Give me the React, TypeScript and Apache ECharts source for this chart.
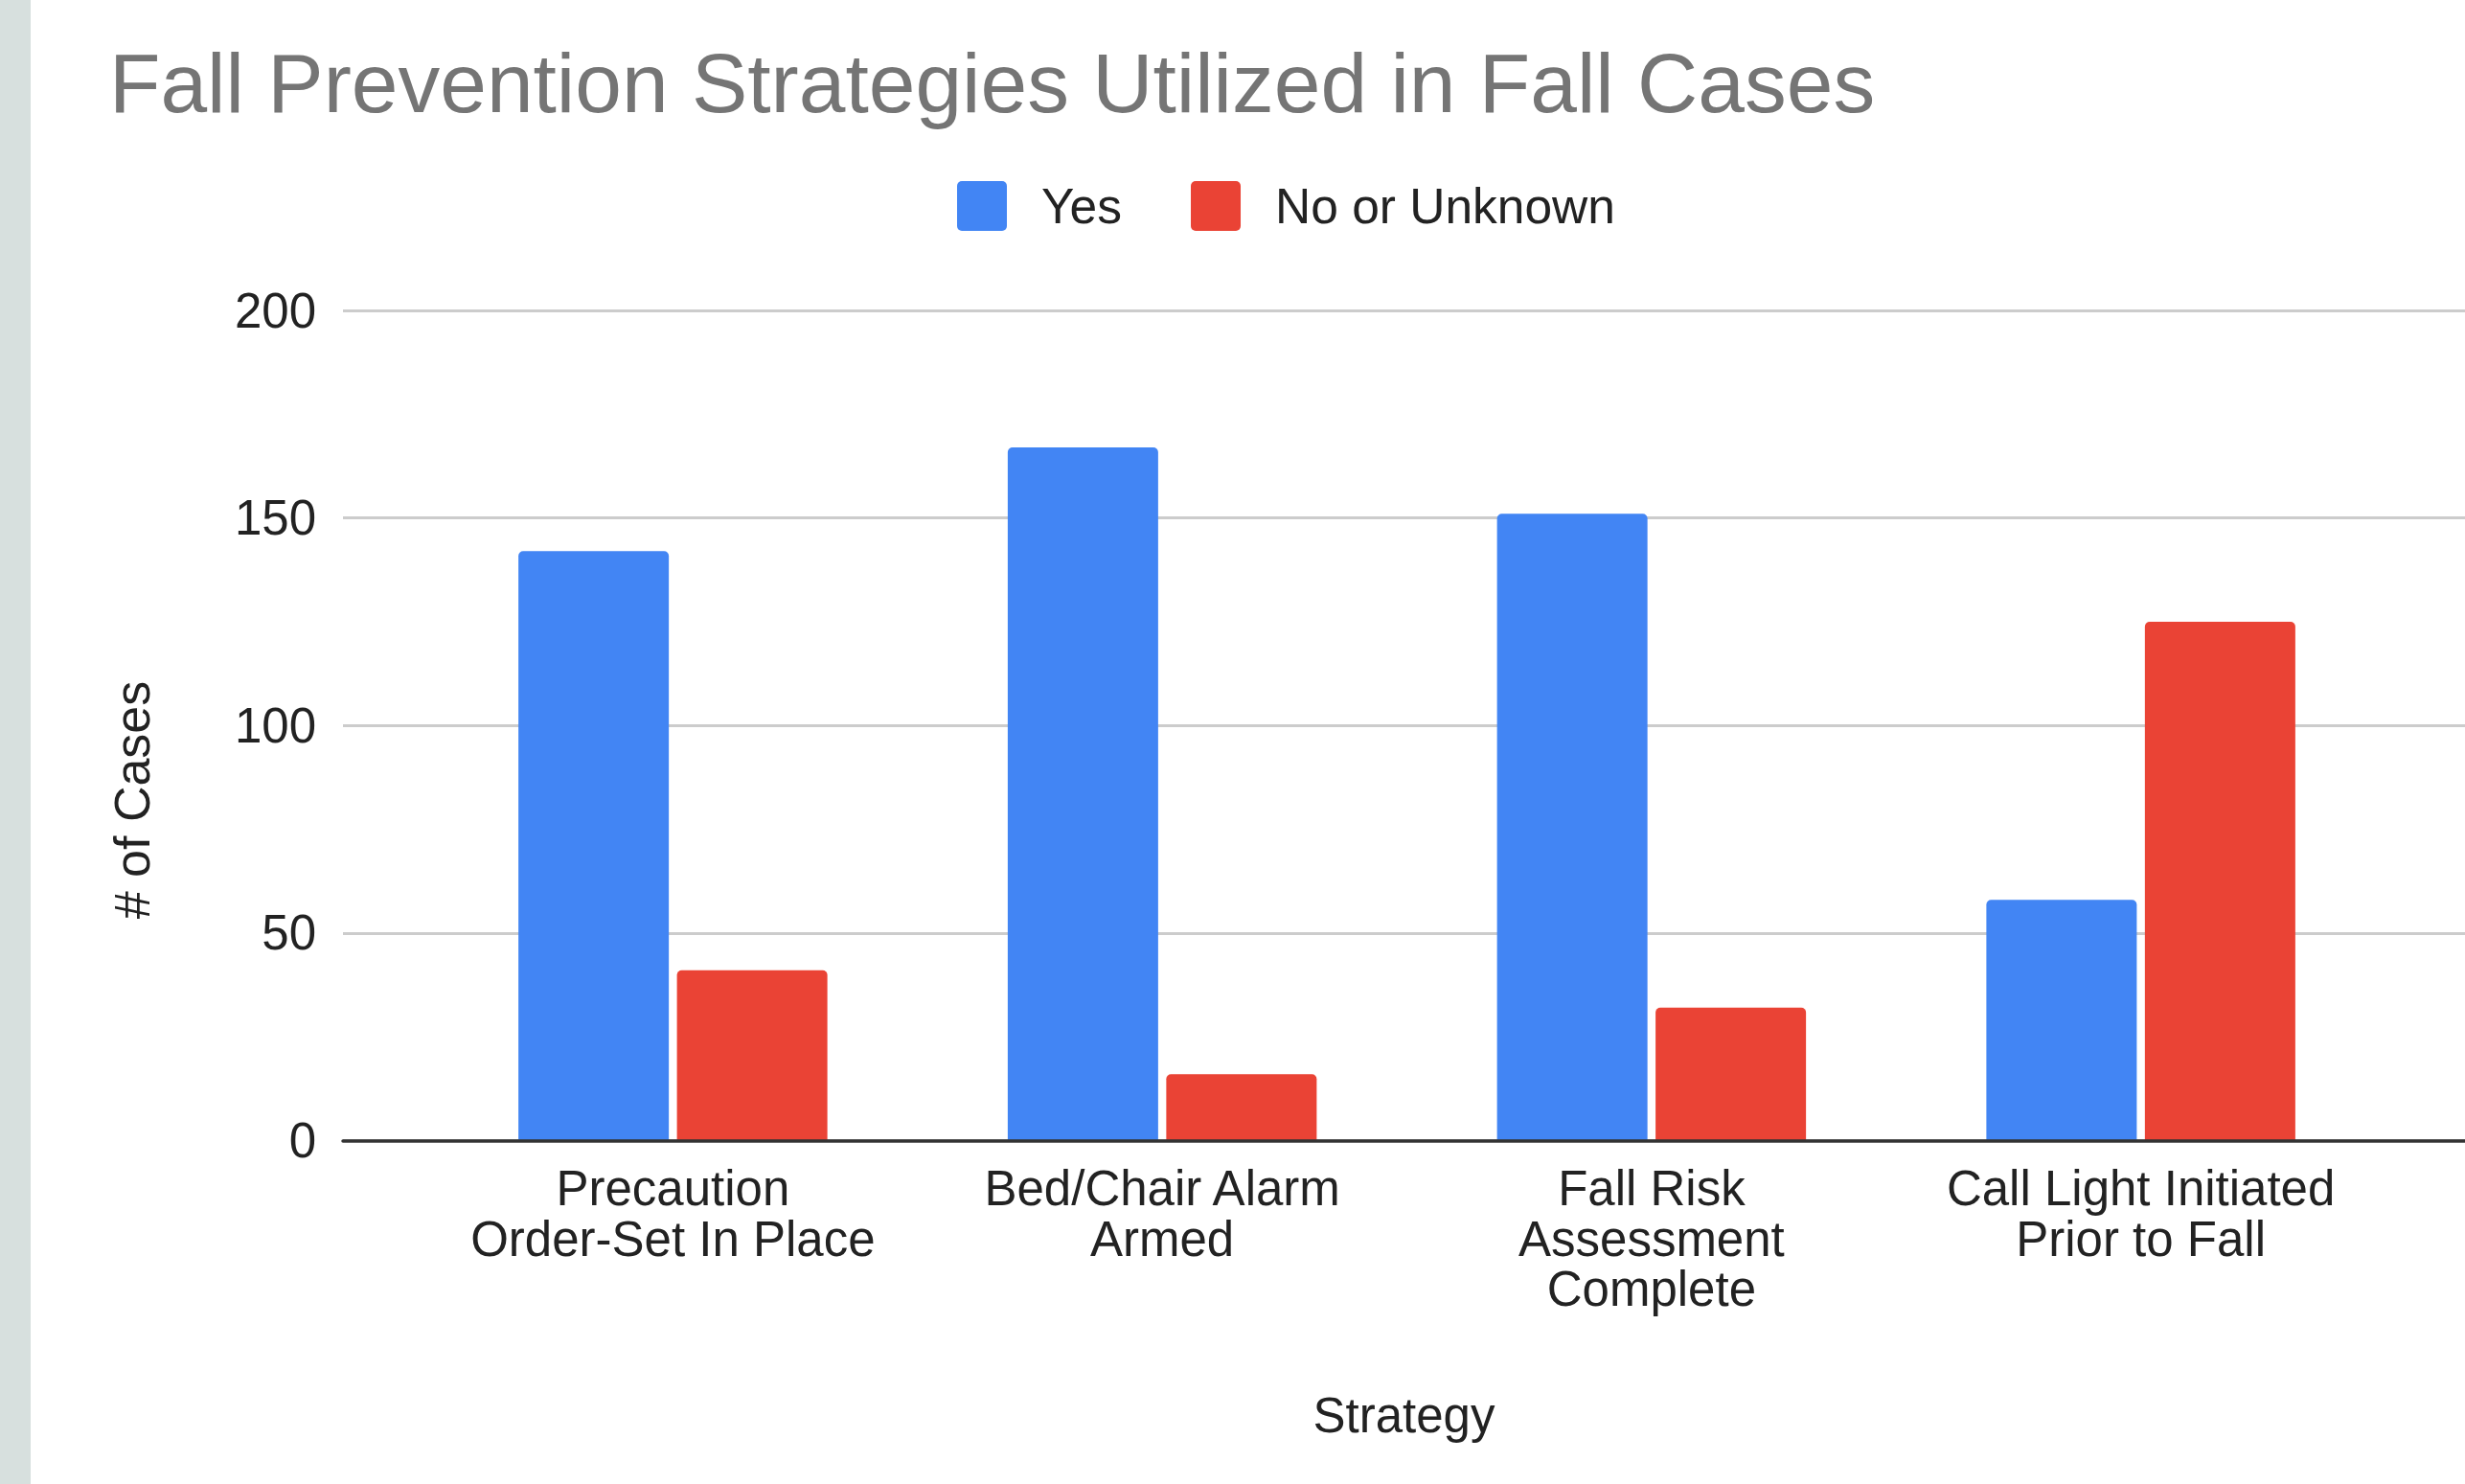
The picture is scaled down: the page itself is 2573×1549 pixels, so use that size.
import React, { useEffect, useRef } from "react";
import * as echarts from "echarts";

const W = 2573;
const H = 1549;
const FONT = "'Liberation Sans', Arial, Helvetica, sans-serif";

// ---- data ----
const chartTitle = "Fall Prevention Strategies Utilized in Fall Cases";
const categories = [
  "Precaution Order-Set In Place",
  "Bed/Chair Alarm Armed",
  "Fall Risk Assessment Complete",
  "Call Light Initiated Prior to Fall",
];
const categoryLabels = [
  "Precaution\nOrder-Set In Place",
  "Bed/Chair Alarm\nArmed",
  "Fall Risk\nAssessment\nComplete",
  "Call Light Initiated\nPrior to Fall",
];
const seriesNames = ["Yes", "No or Unknown"];
const yesValues = [142, 167, 151, 58];
const noValues = [41, 16, 32, 125];
const yMin = 0;
const yMax = 200;
const yStep = 50;
const xAxisTitle = "Strategy";
const yAxisTitle = "# of Cases";

const BLUE = "#4285F4";
const RED = "#EA4335";

const ICON =
  "path://M5,0 H47 A5,5 0 0 1 52,5 V47 A5,5 0 0 1 47,52 H5 A5,5 0 0 1 0,47 V5 A5,5 0 0 1 5,0 Z";

export default function App() {
  const ref = useRef<HTMLDivElement>(null);

  useEffect(() => {
    if (!ref.current) return;
    const chart = echarts.init(ref.current, null, {
      renderer: "svg",
      width: W,
      height: H,
    });

    const plotTop = 324;
    const plotBottom = 1190.5;
    const plotH = plotBottom - plotTop;

    chart.setOption({
      animation: false,
      backgroundColor: "#ffffff",
      title: {
        text: chartTitle,
        left: 114,
        top: 43,
        padding: 0,
        textStyle: {
          fontFamily: FONT,
          fontSize: 87.5,
          lineHeight: 88,
          fontWeight: "normal",
          color: "#757575",
        },
      },
      legend: {
        left: 999,
        top: 189,
        padding: 0,
        itemWidth: 52,
        itemHeight: 52,
        itemGap: 72,
        icon: ICON,
        data: seriesNames,
        textStyle: {
          fontFamily: FONT,
          fontSize: 51.5,
          color: "#222222",
          padding: [0, 0, 0, 31],
        },
      },
      grid: [
        { left: 358, top: plotTop, width: 2220, height: plotH, containLabel: false },
        { left: 447, top: plotTop, width: 2043, height: plotH, containLabel: false },
      ],
      xAxis: [
        {
          gridIndex: 0,
          type: "value",
          min: 0,
          max: 1,
          z: 5,
          axisLine: { show: true, onZero: false, lineStyle: { color: "#333333", width: 3.5 } },
          axisTick: { show: false },
          axisLabel: { show: false },
          splitLine: { show: false },
          name: xAxisTitle,
          nameLocation: "middle",
          nameGap: 261,
          nameTextStyle: {
            fontFamily: FONT,
            fontSize: 51,
            lineHeight: 52.5,
            color: "#222222",
          },
        },
        {
          gridIndex: 1,
          type: "category",
          data: categories,
          axisLine: { show: false },
          axisTick: { show: false },
          splitLine: { show: false },
          axisLabel: {
            interval: 0,
            margin: 24,
            fontFamily: FONT,
            fontSize: 51,
            lineHeight: 52.5,
            color: "#222222",
            align: "center",
            formatter: (_v: string, i: number) => categoryLabels[i],
          },
        },
      ],
      yAxis: [
        {
          gridIndex: 0,
          type: "value",
          min: yMin,
          max: yMax,
          interval: yStep,
          axisLine: { show: false },
          axisTick: { show: false },
          axisLabel: {
            margin: 28,
            fontFamily: FONT,
            fontSize: 51,
            color: "#222222",
          },
          splitLine: { show: true, lineStyle: { color: "#cccccc", width: 3 } },
        },
        {
          gridIndex: 1,
          type: "value",
          min: yMin,
          max: yMax,
          interval: yStep,
          show: false,
          splitLine: { show: false },
        },
      ],
      series: [
        {
          name: seriesNames[0],
          type: "bar",
          xAxisIndex: 1,
          yAxisIndex: 1,
          data: yesValues,
          barWidth: 157,
          barGap: "5.4%",
          itemStyle: { color: BLUE, borderRadius: [5, 5, 0, 0] },
        },
        {
          name: seriesNames[1],
          type: "bar",
          xAxisIndex: 1,
          yAxisIndex: 1,
          data: noValues,
          barWidth: 157,
          barGap: "5.4%",
          itemStyle: { color: RED, borderRadius: [5, 5, 0, 0] },
        },
      ],
      graphic: [
        {
          type: "rect",
          left: 0,
          top: 0,
          shape: { x: 0, y: 0, width: 32, height: H },
          style: { fill: "#d7e0de" },
          silent: true,
        },
        {
          type: "text",
          x: 138,
          y: 835,
          rotation: Math.PI / 2,
          style: {
            text: yAxisTitle,
            fontFamily: FONT,
            fontSize: 52,
            fill: "#222222",
            align: "center",
            verticalAlign: "middle",
          },
        },
      ],
    });

    return () => chart.dispose();
  }, []);

  return (
    <div
      ref={ref}
      style={{
        position: "absolute",
        left: 0,
        top: 0,
        width: W,
        height: H,
        background: "#ffffff",
      }}
    />
  );
}
